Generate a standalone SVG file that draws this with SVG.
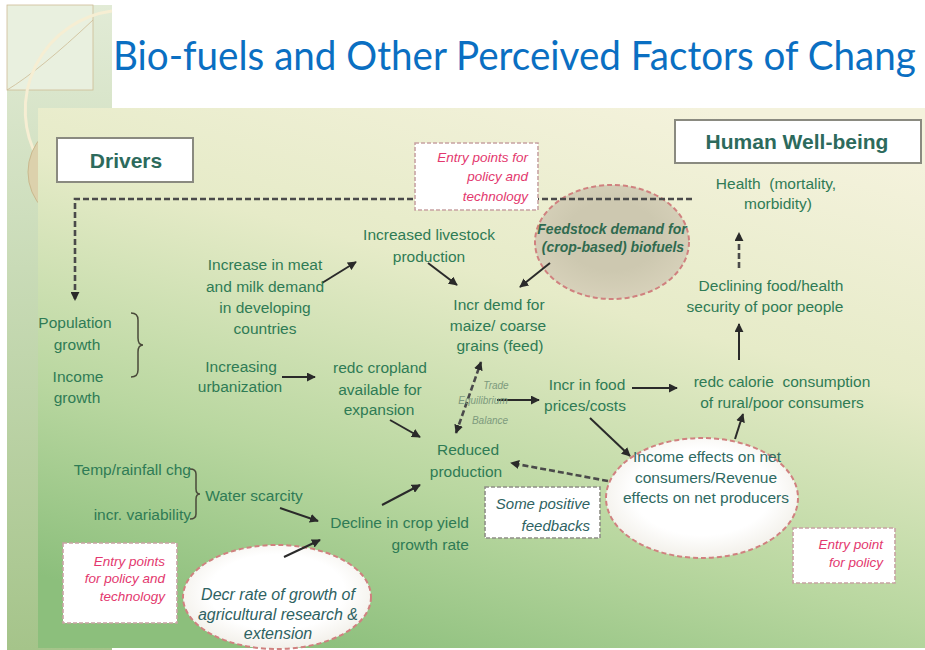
<svg xmlns="http://www.w3.org/2000/svg" width="925" height="650" viewBox="0 0 925 650">
<defs>
  <linearGradient id="panelG" x1="0" y1="0" x2="0" y2="1">
    <stop offset="0" stop-color="#e2ebd6"/>
    <stop offset="1" stop-color="#a5c48a"/>
  </linearGradient>
  <linearGradient id="mainG" x1="0.75" y1="0" x2="0.3" y2="1">
    <stop offset="0" stop-color="#f4f2dc"/>
    <stop offset="0.35" stop-color="#e6ebc8"/>
    <stop offset="0.7" stop-color="#b9d7a0"/>
    <stop offset="1" stop-color="#8cbf7c"/>
  </linearGradient>
  <radialGradient id="whiteEll" cx="0.5" cy="0.45" r="0.6">
    <stop offset="0.6" stop-color="#ffffff"/>
    <stop offset="1" stop-color="#efece4"/>
  </radialGradient>
  <radialGradient id="grayEll" cx="0.5" cy="0.45" r="0.6">
    <stop offset="0.5" stop-color="#cdc8b0"/>
    <stop offset="1" stop-color="#d9d3bc"/>
  </radialGradient>
  <marker id="ah" viewBox="0 0 10 10" refX="9" refY="5" markerWidth="9" markerHeight="9" markerUnits="userSpaceOnUse" orient="auto-start-reverse">
    <path d="M0,0 L10,5 L0,10 z" fill="#2a2a2a"/>
  </marker>
  <style>
    .t{font-family:"Liberation Sans",Arial,sans-serif;font-size:15.5px;fill:#2f7b55;text-anchor:middle}
    .hd{font-family:"Liberation Sans",Arial,sans-serif;font-weight:bold;fill:#2d6a5c;text-anchor:middle}
    .hbox{fill:#ffffff;stroke:#8a8a80;stroke-width:2}
    .ep{font-family:"Liberation Sans",Arial,sans-serif;font-style:italic;font-size:13.5px;fill:#e3386e;text-anchor:end}
    .epbox{fill:#ffffff;stroke:#c7a3a3;stroke-width:1.6;stroke-dasharray:4 2}
    .ell{stroke:#d0817f;stroke-width:2;stroke-dasharray:5 3}
    .it{font-family:"Liberation Sans",Arial,sans-serif;font-style:italic;fill:#2e6262;text-anchor:middle}
    .sm{font-family:"Liberation Sans",Arial,sans-serif;font-style:italic;font-size:10px;fill:#7d9a7d;text-anchor:middle}
    .c{fill:none;stroke:#2a2a2a;stroke-width:2;marker-end:url(#ah)}
    .d{fill:none;stroke:#4a4a4a;stroke-width:2.6;stroke-dasharray:6 3}
    .br{fill:none;stroke:#4a4a3a;stroke-width:1.5}
  </style>
</defs>

<!-- page background -->
<rect x="0" y="0" width="925" height="650" fill="#ffffff"/>

<!-- left decorative panel -->
<g id="decor">
  <rect x="7" y="5" width="105" height="645" fill="url(#panelG)"/>
  <rect x="7" y="5" width="86" height="85" fill="#e9f0df" stroke="#cdbb94" stroke-width="0.8"/>
  <path d="M7,90 Q40,70 93,20" fill="none" stroke="#cdbb94" stroke-width="0.8"/>
  <path d="M112,11 A100,100 0 0 0 38,159" fill="none" stroke="#f6eed3" stroke-width="3"/>
  <circle cx="80" cy="172" r="52" fill="#dcd1ac" stroke="#c9b98e" stroke-width="1"/>
</g>

<!-- title -->
<text id="title" transform="translate(113,70) scale(0.965,1)" x="0" y="0" font-family="Lato,'Liberation Sans',sans-serif" font-size="40" fill="#0a6fc2">Bio-fuels and Other Perceived Factors of Chang</text>

<!-- main picture background -->
<rect x="38" y="108" width="887" height="540" fill="url(#mainG)"/>

<!-- nodes below connectors -->
<g id="feedstock">
  <ellipse cx="612" cy="242" rx="77" ry="57" fill="url(#grayEll)" class="ell"/>
  <text class="it" font-weight="bold" font-size="14" x="612" y="234" style="fill:#2f6a4f">Feedstock demand for</text>
  <text class="it" font-weight="bold" font-size="14" x="613" y="252" style="fill:#2f6a4f">(crop-based) biofuels</text>
</g>
<g id="income">
  <ellipse cx="702" cy="498" rx="96" ry="60" fill="url(#whiteEll)" class="ell"/>
  <text class="t" x="707" y="462" style="fill:#2f6a62">Income effects on net</text>
  <text class="t" x="706" y="483" style="fill:#2f6a62">consumers/Revenue</text>
  <text class="t" x="706" y="503" style="fill:#2f6a62">effects on net producers</text>
</g>
<g id="decr">
  <ellipse cx="277" cy="597" rx="94" ry="52" fill="url(#whiteEll)" class="ell"/>
  <text class="it" font-size="16" x="278" y="600">Decr rate of growth of</text>
  <text class="it" font-size="16" x="278" y="620">agricultural research &amp;</text>
  <text class="it" font-size="16" x="278" y="639">extension</text>
</g>

<!-- connectors -->
<g id="connectors">
  <path class="d" d="M692,199 H75 V300" marker-end="url(#ah)"/>
  <path class="d" d="M739,268 V233" stroke-dasharray="3 3" marker-end="url(#ah)"/>
  <path class="c" d="M739,360 V324"/>
  <path class="c" d="M632,388 H677"/>
  <path class="c" d="M497,400 H539"/>
  <path class="d" d="M456,433 L481,362" stroke-dasharray="4 3" marker-start="url(#ah)" marker-end="url(#ah)"/>
  <path class="c" d="M428,263 L457,285"/>
  <path class="c" d="M550,263 L520,287"/>
  <path class="c" d="M322,283 L356,262"/>
  <path class="c" d="M282,377 H315"/>
  <path class="c" d="M390,420 L420,437"/>
  <path class="d" d="M608,481 L511,463" stroke-dasharray="5 3" marker-end="url(#ah)"/>
  <path class="c" d="M382,505 L420,485"/>
  <path class="c" d="M590,418 L630,456"/>
  <path class="c" d="M735,439 L743,414"/>
  <path class="c" d="M280,508 L318,521"/>
  <path class="c" d="M284,557 L320,540"/>
</g>

<!-- header boxes -->
<g id="drivers">
  <rect class="hbox" x="57" y="138" width="136" height="44"/>
  <text class="hd" x="126" y="168" font-size="21">Drivers</text>
</g>
<g id="wellbeing">
  <rect class="hbox" x="675" y="120" width="246" height="43"/>
  <text class="hd" x="797" y="149" font-size="21">Human Well-being</text>
</g>

<!-- entry point boxes -->
<g id="entry-top">
  <rect class="epbox" x="415" y="143" width="123" height="67"/>
  <text class="ep" x="528" y="162">Entry points for</text>
  <text class="ep" x="528" y="181">policy and</text>
  <text class="ep" x="528" y="201">technology</text>
</g>
<g id="entry-left">
  <rect class="epbox" x="63" y="543" width="114" height="80"/>
  <text class="ep" x="165" y="566">Entry points</text>
  <text class="ep" x="165" y="583">for policy and</text>
  <text class="ep" x="165" y="601">technology</text>
</g>
<g id="entry-right">
  <rect class="epbox" x="793" y="528" width="102" height="55"/>
  <text class="ep" x="883" y="549">Entry point</text>
  <text class="ep" x="883" y="567">for policy</text>
</g>
<g id="feedbacks">
  <rect class="epbox" x="485" y="487" width="115" height="51" style="stroke:#8e8e86"/>
  <text class="it" font-size="15" x="590" y="509" style="text-anchor:end">Some positive</text>
  <text class="it" font-size="15" x="590" y="531" style="text-anchor:end">feedbacks</text>
</g>

<!-- text nodes -->
<g id="health">
  <text class="t" x="776" y="189" font-size="14.5" xml:space="preserve">Health  (mortality,</text>
  <text class="t" x="778" y="209" font-size="14.5">morbidity)</text>
</g>
<g id="declining">
  <text class="t" x="771" y="291">Declining food/health</text>
  <text class="t" x="765" y="312">security of poor people</text>
</g>
<g id="calorie">
  <text class="t" x="782" y="387" xml:space="preserve">redc calorie  consumption</text>
  <text class="t" x="782" y="408">of rural/poor consumers</text>
</g>
<g id="prices">
  <text class="t" x="587" y="390">Incr in food</text>
  <text class="t" x="585" y="411">prices/costs</text>
</g>
<g id="trade">
  <text class="sm" x="496" y="389">Trade</text>
  <text class="sm" x="483" y="404">Equilibrium</text>
  <text class="sm" x="490" y="424">Balance</text>
</g>
<g id="maize">
  <text class="t" x="499" y="310">Incr demd for</text>
  <text class="t" x="498" y="331">maize/ coarse</text>
  <text class="t" x="500" y="351">grains (feed)</text>
</g>
<g id="livestock">
  <text class="t" x="429" y="240">Increased livestock</text>
  <text class="t" x="429" y="262">production</text>
</g>
<g id="meat">
  <text class="t" x="265" y="270">Increase in meat</text>
  <text class="t" x="265" y="292">and milk demand</text>
  <text class="t" x="265" y="313">in developing</text>
  <text class="t" x="265" y="334">countries</text>
</g>
<g id="population">
  <text class="t" x="75" y="328">Population</text>
  <text class="t" x="77" y="350">growth</text>
  <text class="t" x="78" y="382">Income</text>
  <text class="t" x="77" y="403">growth</text>
  <path class="br" d="M131,313 Q138,313 138,320 L138,338 Q138,345 143,345 Q138,345 138,352 L138,370 Q138,377 131,377"/>
</g>
<g id="urbanization">
  <text class="t" x="241" y="372">Increasing</text>
  <text class="t" x="240" y="392">urbanization</text>
</g>
<g id="cropland">
  <text class="t" x="380" y="373">redc cropland</text>
  <text class="t" x="380" y="395">available for</text>
  <text class="t" x="379" y="415">expansion</text>
</g>
<g id="reduced">
  <text class="t" x="468" y="455">Reduced</text>
  <text class="t" x="466" y="477">production</text>
</g>
<g id="decline">
  <text class="t" x="469" y="528" style="text-anchor:end">Decline in crop yield</text>
  <text class="t" x="469" y="550" style="text-anchor:end">growth rate</text>
</g>
<g id="climate">
  <text class="t" x="191" y="475" style="text-anchor:end">Temp/rainfall chg</text>
  <text class="t" x="191" y="520" style="text-anchor:end">incr. variability</text>
  <path class="br" d="M190,469 Q196,469 196,474 L196,489 Q196,494 200,494 Q196,494 196,499 L196,514 Q196,519 190,519"/>
</g>
<g id="water">
  <text class="t" x="254" y="501">Water scarcity</text>
</g>
</svg>
